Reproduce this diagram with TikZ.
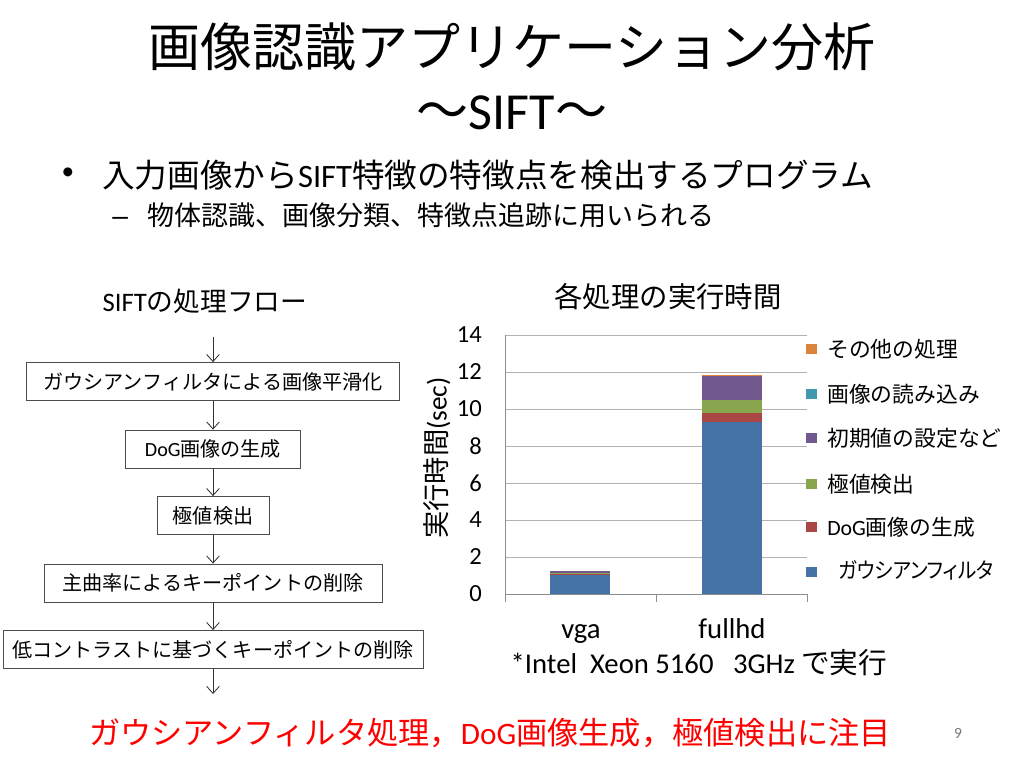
\documentclass[tikz,border=0pt]{standalone}
\usepackage{fontspec}
\setmainfont{Noto Sans CJK JP}
\newfontfamily\calfont{Carlito}
\newfontfamily\arialfont{Liberation Sans}
\newfontfamily\jpprop[RawFeature=+palt]{Noto Sans CJK JP}
\usetikzlibrary{arrows.meta}

\definecolor{gaussblue}{HTML}{4572A7}
\definecolor{dogred}{HTML}{AA4643}
\definecolor{extgreen}{HTML}{89A54E}
\definecolor{initpurple}{HTML}{71588F}
\definecolor{loadteal}{HTML}{4198AF}
\definecolor{otherorange}{HTML}{DB843D}

\newcommand{\fs}[1]{\fontsize{#1}{#1}\selectfont}

\tikzset{
  flowbox/.style={draw=black!70, line width=0.6pt, minimum height=27pt, inner sep=0pt, font=\fs{14.3}},
  flowarrow/.style={draw=black!80, line width=0.6pt, -{Straight Barb[length=5pt,width=9pt]}},
  gridline/.style={draw=black!30, line width=0.6pt},
  axisline/.style={draw=black!45, line width=0.6pt},
  legendsq/.style={minimum size=7.8pt, inner sep=0pt},
  legendtext/.style={anchor=west, inner sep=0pt, font=\fs{15.5}},
}

\begin{document}
\begin{tikzpicture}[x=0.025cm, y=-0.025cm]
  \useasboundingbox (0,0) rectangle (1024,768);

  % title
  \node (title) at (512,47) {\fs{37}画像認識アプリケーション分析};
  \node (subtitle) at (512,113) {\fs{37}～{\calfont SIFT}～};
  \node[anchor=west, inner sep=0pt] (item1) at (102,175) {\fs{23.2}入力画像から{\calfont SIFT}特徴の特徴点を検出するプログラム};
  \node[inner sep=0pt] (dot1) at (68,174) {\fs{18}\calfont •};
  \node[anchor=west, inner sep=0pt] (item2) at (147,215) {\fs{19.2}物体認識、画像分類、特徴点追跡に用いられる};
  \node[anchor=base, inner sep=0pt] (dash1) at ([xshift=-19pt]item2.base west) {\fs{20}\arialfont –};

  % flow
  \node (flowtitle) at (205,301) {\fs{19}{\calfont SIFT}の処理フロー};
  \coordinate (flowin) at (213,337);
  \node[flowbox, minimum width=265.2pt] (gauss) at (213,381.5) {ガウシアンフィルタによる画像平滑化};
  \node[flowbox, minimum width=124.4pt] (dog) at (213,449) {{\calfont DoG}画像の生成};
  \node[flowbox, minimum width=79.6pt] (extrema) at (213,515.5) {極値検出};
  \node[flowbox, minimum width=240.3pt] (curv) at (213,583) {主曲率によるキーポイントの削除};
  \node[flowbox, minimum width=298.6pt] (contrast) at (213,649.5) {低コントラストに基づくキーポイントの削除};
  \coordinate (flowout) at (213,694);
  \draw[flowarrow] (flowin) -- (gauss);
  \draw[flowarrow] (gauss) -- (dog);
  \draw[flowarrow] (dog) -- (extrema);
  \draw[flowarrow] (extrema) -- (curv);
  \draw[flowarrow] (curv) -- (contrast);
  \draw[flowarrow] (contrast) -- (flowout);

  % chart
  \node (charttitle) at (668,297) {\fs{20.2}各処理の実行時間};
  \node[rotate=90] (ytitle) at (437,458) {\fs{19.4}実行時間{\calfont(sec)}};
  \begin{scope}[shift={(0,594)}, y=0.4625cm]
    \foreach \v in {2,4,...,14}
      \draw[gridline] (505,\v) -- (807,\v);
    \foreach \v in {0,2,...,14}
      \node[anchor=east, inner sep=0pt] (ytick\v) at (482,\v) {\fs{17.5}\calfont \v};
    % vga
    \fill[gaussblue] (550,0) rectangle (610,1.02);
    \fill[dogred] (550,1.02) rectangle (610,1.08);
    \fill[extgreen] (550,1.08) rectangle (610,1.15);
    \fill[initpurple] (550,1.15) rectangle (610,1.25);
    % fullhd
    \fill[gaussblue] (702,0) rectangle (762,9.31);
    \fill[dogred] (702,9.31) rectangle (762,9.80);
    \fill[extgreen] (702,9.80) rectangle (762,10.49);
    \fill[initpurple] (702,10.49) rectangle (762,11.80);
    \fill[loadteal] (702,11.80) rectangle (762,11.82);
    \fill[otherorange] (702,11.82) rectangle (762,11.86);
    \draw[axisline] (505,14) -- (505,-0.45);
    \draw[axisline] (505,0) -- (807,0);
    \draw[axisline] (656,0) -- (656,-0.45);
    \draw[axisline] (807,0) -- (807,-0.45);
  \end{scope}
  \node[anchor=base] (vgalbl) at (581,638) {\fs{20.4}\calfont vga};
  \node[anchor=base] (fullhdlbl) at (732,638) {\fs{20.4}\calfont fullhd};
  \node[anchor=base] (cpunote) at (699,673) {\fs{20.4}{\calfont *Intel\ \ Xeon 5160\ \ \ 3GHz} で実行};

  % legend
  \node[legendsq, fill=otherorange] (lgother) at (811.5,349) {};
  \node[legendtext] (lgothertxt) at (827,349) {その他の処理};
  \node[legendsq, fill=loadteal] (lgload) at (811.5,394) {};
  \node[legendtext] (lgloadtxt) at (827,394) {画像の読み込み};
  \node[legendsq, fill=initpurple] (lginit) at (811.5,438) {};
  \node[legendtext] (lginittxt) at (827,438) {初期値の設定など};
  \node[legendsq, fill=extgreen] (lgext) at (811.5,484) {};
  \node[legendtext] (lgexttxt) at (827,484) {極値検出};
  \node[legendsq, fill=dogred] (lgdog) at (811.5,527) {};
  \node[legendtext] (lgdogtxt) at (827,527) {{\calfont DoG}画像の生成};
  \node[legendsq, fill=gaussblue] (lggauss) at (811.5,572) {};
  \node[legendtext] (lggausstxt) at (838,570) {\scalebox{0.9}[1]{\jpprop ガウシアンフィルタ}};

  % footer
  \node[text=red] (focus) at (490,733) {\fs{22.2}ガウシアンフィルタ処理，{\calfont DoG}画像生成，極値検出に注目};
  \node[text=black!55] (pagenum) at (958,733) {\fs{11}\calfont 9};
\end{tikzpicture}
\end{document}
